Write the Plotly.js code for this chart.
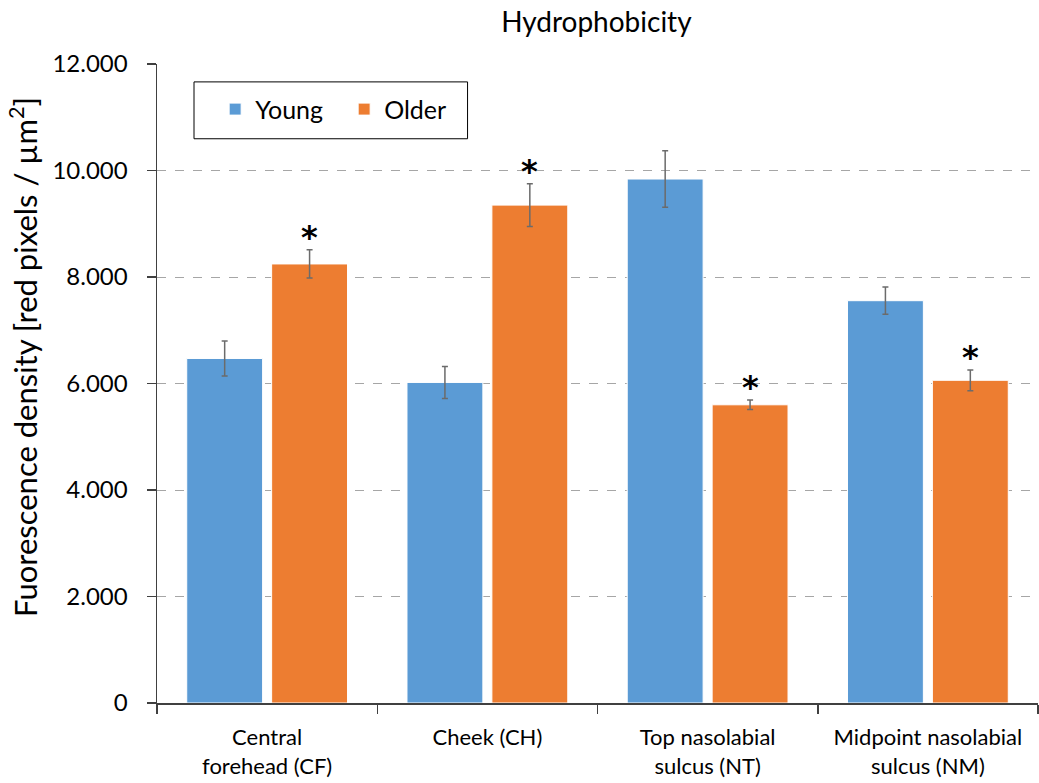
<!DOCTYPE html>
<html>
<head>
<meta charset="utf-8">
<script src="https://cdn.plot.ly/plotly-3.0.1.min.js"></script>
<style>html,body{margin:0;padding:0;background:#fff;}#chart{width:1039px;height:783px;}</style>
</head>
<body>
<div id="chart"></div>
<script>
const categories = ["Central<br>forehead (CF)", "Cheek (CH)", "Top nasolabial<br>sulcus (NT)", "Midpoint nasolabial<br>sulcus (NM)"];
const youngValues = [6470, 6020, 9840, 7555];
const youngErrors = [330, 300, 530, 255];
const olderValues = [8245, 9350, 5600, 6060];
const olderErrors = [265, 400, 90, 195];
const significant = [true, true, true, true];
const yTicks = [0, 2000, 4000, 6000, 8000, 10000, 12000];
const yTitle = "Fuorescence density [red pixels / µm<sup>2</sup>]";

const font = "Lato, 'Open Sans', sans-serif";

const traces = [
  {
    type: "bar", name: "Young", x: categories, y: youngValues,
    marker: {color: "#5B9BD5", line: {color: "#ffffff", width: 1}},
    error_y: {type: "data", array: youngErrors, visible: true, color: "#6b6b6b", thickness: 1.5, width: 3}
  },
  {
    type: "bar", name: "Older", x: categories, y: olderValues,
    marker: {color: "#ED7D31", line: {color: "#ffffff", width: 1}},
    error_y: {type: "data", array: olderErrors, visible: true, color: "#6b6b6b", thickness: 1.5, width: 3}
  }
];

const annotations = categories.map((c, i) => significant[i] ? ({
  x: c, y: olderValues[i] + olderErrors[i], xref: "x", yref: "y",
  text: "<b>*</b>", showarrow: false, xshift: 42.5, yshift: -8, yanchor: "bottom",
  font: {family: "'DejaVu Sans', sans-serif", size: 32, color: "#000"}
}) : null).filter(a => a);

annotations.push({
  x: 0, y: 0.5415, xref: "paper", yref: "paper", xanchor: "center", yanchor: "middle",
  xshift: -133, textangle: -90, showarrow: false, text: yTitle,
  font: {family: font, size: 31, color: "#000"}
});

const layout = {
  width: 1039, height: 783,
  margin: {l: 157, r: 1, t: 64, b: 80},
  paper_bgcolor: "#fff", plot_bgcolor: "#fff",
  separators: ",.",
  font: {family: font, color: "#000"},
  title: {text: "Hydrophobicity", x: 0.574, xanchor: "center", y: 0.972, yanchor: "middle", font: {family: font, size: 28, color: "#000"}},
  barmode: "group", bargap: 0.229, bargroupgap: 0.106,
  xaxis: {
    type: "category", showline: true, linecolor: "#404040", linewidth: 1.5,
    ticks: "outside", tickson: "boundaries", ticklen: 9, tickcolor: "#404040", tickwidth: 1.5,
    ticklabelstandoff: 14,
    tickfont: {family: font, size: 22, color: "#000"}, showgrid: false
  },
  yaxis: {
    range: [0, 12000], tickvals: yTicks, tickformat: ",d",
    showline: true, linecolor: "#404040", linewidth: 1.5,
    ticks: "outside", ticklen: 9, tickcolor: "#404040", tickwidth: 1.5,
    ticklabelstandoff: 14,
    tickfont: {family: font, size: 24, color: "#000"},
    showgrid: true, gridcolor: "#a6a6a6", griddash: "dash", gridwidth: 1, zeroline: false
  },
  showlegend: true,
  legend: {
    orientation: "h", x: 0.066, y: 0.965, xanchor: "left", yanchor: "top",
    borderwidth: 0, bgcolor: "rgba(0,0,0,0)",
    entrywidth: 84, entrywidthmode: "pixels",
    font: {family: font, size: 25, color: "#000"}, traceorder: "normal"
  },
  shapes: [{
    type: "rect", xref: "paper", yref: "paper",
    x0: 0.042, x1: 0.3525, y0: 0.883, y1: 0.972,
    line: {color: "#000", width: 1}, fillcolor: "#fff", layer: "below"
  }],
  annotations: annotations
};

Plotly.newPlot("chart", traces, layout, {displayModeBar: false, staticPlot: true});
</script>
</body>
</html>
